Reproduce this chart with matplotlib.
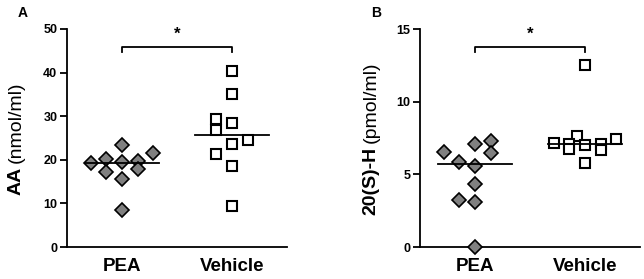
import matplotlib
matplotlib.use("Agg")
import matplotlib.pyplot as plt
import matplotlib.transforms as mtransforms

plt.rcParams['font.family'] = ['Liberation Sans', 'DejaVu Sans']

# ---------------- data ----------------
groups = ["PEA", "Vehicle"]

aa_pea = [19.2, 20.1, 23.4, 21.5, 19.4, 19.8, 17.1, 18.0, 15.5, 8.6]
aa_pea_slot = [-2, -1, 0, 2, 0, 1, -1, 1, 0, 0]
aa_veh = [40.4, 35.0, 29.3, 28.4, 26.8, 24.5, 23.6, 21.3, 18.6, 9.5]
aa_veh_slot = [0, 0, -1, 0, -1, 1, 0, -1, 0, 0]

h20_pea = [6.52, 5.83, 7.07, 7.30, 6.45, 5.57, 4.34, 3.23, 3.12, 0.0]
h20_pea_slot = [-2, -1, 0, 1, 1, 0, 0, -1, 0, 0]
h20_veh = [12.53, 7.18, 7.66, 7.09, 6.72, 7.02, 7.09, 6.68, 7.43, 5.80]
h20_veh_slot = [0, -2, -0.5, -1, -1, 0, 1, 1, 2, 0]

aa_ticks = [0, 10, 20, 30, 40, 50]
h20_ticks = [0, 5, 10, 15]

panels = [
    dict(letter="A", pea=aa_pea, pea_slot=aa_pea_slot, veh=aa_veh, veh_slot=aa_veh_slot,
         ticks=aa_ticks, bold="AA", unit="(nmol/ml)", sig="*"),
    dict(letter="B", pea=h20_pea, pea_slot=h20_pea_slot, veh=h20_veh, veh_slot=h20_veh_slot,
         ticks=h20_ticks, bold="20(S)-H", unit="(pmol/ml)", sig="*"),
]

# ---------------- figure ----------------
W, H = 644, 279
fig = plt.figure(figsize=(W / 100, H / 100), dpi=100)
renderer = fig.canvas.get_renderer()

ax_left_px = [67, 420]
label_x_px = [16.5, 371]
ax_w_px = 220
ax_top_px, ax_bot_px = 29, 247
slot_w = 0.141
half_line = 0.336

for i, p in enumerate(panels):
    ax = fig.add_axes([ax_left_px[i] / W, 1 - ax_bot_px / H, ax_w_px / W, (ax_bot_px - ax_top_px) / H])
    ymax = p["ticks"][-1]
    ax.set_xlim(-0.5, 1.5)
    ax.set_ylim(0, ymax)

    for s in ["top", "right"]:
        ax.spines[s].set_visible(False)
    for s in ["left", "bottom"]:
        ax.spines[s].set_linewidth(1.3)
    ax.set_yticks(p["ticks"])
    ax.set_yticklabels([str(t) for t in p["ticks"]], fontsize=9, fontweight="bold")
    ax.tick_params(axis="y", length=5, width=1.3, pad=2)
    ax.set_xticks([0, 1])
    ax.set_xticklabels(groups, fontsize=13.5, fontweight="bold")
    ax.tick_params(axis="x", length=0, pad=8)

    # points
    xs_p = [0 + s * slot_w for s in p["pea_slot"]]
    xs_v = [1 + s * slot_w for s in p["veh_slot"]]
    ax.plot(xs_p, p["pea"], linestyle="none", marker="D", markersize=6.8,
            markerfacecolor="#808080", markeredgecolor="black", markeredgewidth=1.2,
            clip_on=False, zorder=4)
    ax.plot(xs_v, p["veh"], linestyle="none", marker="s", markersize=7.2,
            markerfacecolor="white", markeredgecolor="black", markeredgewidth=1.5,
            clip_on=False, zorder=4)

    # medians
    for xc, vals in [(0, p["pea"]), (1, p["veh"])]:
        sv = sorted(vals)
        n = len(sv)
        med = (sv[n // 2 - 1] + sv[n // 2]) / 2 if n % 2 == 0 else sv[n // 2]
        ax.plot([xc - half_line, xc + half_line], [med, med], color="black", lw=1.3, zorder=5)

    # significance bracket
    trans = mtransforms.blended_transform_factory(ax.transData, ax.transAxes)
    yb = 0.919
    yt = yb - 5 / 218
    ax.plot([0, 0, 1, 1], [yt, yb, yb, yt], color="black", lw=1.3, transform=trans, clip_on=False)
    ax.text(0.5, 0.975, p["sig"], transform=trans, ha="center", va="center",
            fontsize=12, fontweight="bold")

    # y label: bold name + regular unit, centred on the axis
    lx = label_x_px[i] / W
    t1 = fig.text(lx, 0, p["bold"], rotation=90, ha="center", va="bottom",
                  fontsize=14, fontweight="bold")
    t2 = fig.text(lx, 0, p["unit"], rotation=90, ha="center", va="bottom",
                  fontsize=14)
    h1 = t1.get_window_extent(renderer).height
    h2 = t2.get_window_extent(renderer).height
    gap = 4
    total = h1 + gap + h2
    yc = H - (ax_top_px + ax_bot_px) / 2
    y0 = yc - total / 2
    t1.set_position((lx, y0 / H))
    t2.set_position((lx, (y0 + h1 + gap) / H))

    # panel letter
    fig.text((ax_left_px[i] - 44) / W, 1 - 13 / H, p["letter"], fontsize=10,
             fontweight="bold", ha="center", va="center")

fig.savefig("out.png", dpi=100)
